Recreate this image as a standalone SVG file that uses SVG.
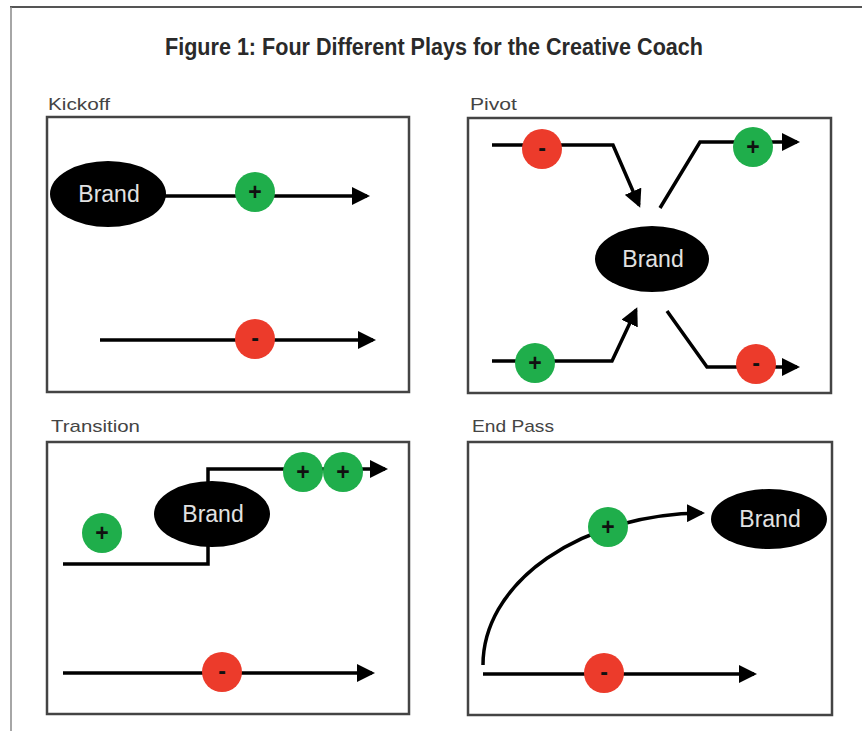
<svg xmlns="http://www.w3.org/2000/svg" width="862" height="731" viewBox="0 0 862 731">
<style>
.bg{fill:#fff}
.panel{fill:#fff;stroke:#444;stroke-width:2.5}
.title{font-family:"Liberation Sans",Arial,sans-serif;font-size:23px;font-weight:bold;fill:#2a2a2a;text-anchor:middle}
.lbl{font-family:"Liberation Sans",Arial,sans-serif;font-size:17px;fill:#444}
.brand ellipse{fill:#000}
.brand text{font-family:"Liberation Sans",Arial,sans-serif;font-size:23px;fill:#e2e2e2;text-anchor:middle}
.pos circle{fill:#1fae4b}
.neg circle{fill:#ec3b2b}
.sign{font-family:"Liberation Sans",Arial,sans-serif;fill:#111;text-anchor:middle;font-weight:bold}
.pos text{font-size:23px}
.neg text{font-size:23px}
.wire{fill:none;stroke:#000;stroke-width:3.5}
.arr{marker-end:url(#ah)}
</style>
<defs>
<marker id="ah" markerUnits="userSpaceOnUse" markerWidth="18" markerHeight="18" refX="15" refY="9" orient="auto">
<path d="M0,0 L18,9 L0,18 z" fill="#000"/>
</marker>
</defs>
<rect class="bg" x="0" y="0" width="862" height="731"/>
<line x1="10" y1="7" x2="862" y2="7" stroke="#555" stroke-width="2"/>
<line x1="11" y1="7" x2="11" y2="731" stroke="#888" stroke-width="1.5"/>
<text class="title" x="434" y="55" textLength="538" lengthAdjust="spacingAndGlyphs">Figure 1: Four Different Plays for the Creative Coach</text>

<g id="panel-kickoff">
<text class="lbl" x="48" y="110" textLength="62" lengthAdjust="spacingAndGlyphs">Kickoff</text>
<rect class="panel" x="47" y="117" width="362" height="275"/>
</g>
<g id="panel-pivot">
<text class="lbl" x="470" y="110" textLength="47" lengthAdjust="spacingAndGlyphs">Pivot</text>
<rect class="panel" x="468" y="118" width="363" height="275"/>
</g>
<g id="panel-transition">
<text class="lbl" x="51" y="432" textLength="89" lengthAdjust="spacingAndGlyphs">Transition</text>
<rect class="panel" x="47" y="442" width="362" height="272"/>
</g>
<g id="panel-endpass">
<text class="lbl" x="472" y="432" textLength="82" lengthAdjust="spacingAndGlyphs">End Pass</text>
<rect class="panel" x="468" y="442" width="364" height="273"/>
</g>

<g id="connectors">
<path class="wire arr" d="M160,196 H367"/>
<path class="wire arr" d="M100,340 H373"/>
<path class="wire arr" d="M492,145 H613 L639,205"/>
<path class="wire arr" d="M660,208 L700,142 H797"/>
<path class="wire arr" d="M492,361 H612 L636,310"/>
<path class="wire arr" d="M667,311 L707,367 H797"/>
<path class="wire arr" d="M63,564 H208 V469 H385"/>
<path class="wire arr" d="M63,673 H372"/>
<path class="wire arr" d="M483,665 A222,152 0 0 1 702,513"/>
<path class="wire arr" d="M483,674 H754"/>
</g>

<g id="kickoff-brand" class="brand"><ellipse cx="108" cy="194" rx="58" ry="33"/><text x="109" y="202">Brand</text></g>
<g id="kickoff-plus" class="pos"><circle cx="255" cy="192" r="20"/><text class="sign" x="255" y="200">+</text></g>
<g id="kickoff-minus" class="neg"><circle cx="255" cy="339" r="20"/><text class="sign" x="255" y="346">-</text></g>

<g id="pivot-brand" class="brand"><ellipse cx="652" cy="259" rx="57" ry="33"/><text x="653" y="267">Brand</text></g>
<g id="pivot-minus-in" class="neg"><circle cx="542" cy="149" r="20"/><text class="sign" x="542" y="156">-</text></g>
<g id="pivot-plus-out" class="pos"><circle cx="753" cy="147" r="20"/><text class="sign" x="753" y="155">+</text></g>
<g id="pivot-plus-in" class="pos"><circle cx="535" cy="363" r="20"/><text class="sign" x="535" y="371">+</text></g>
<g id="pivot-minus-out" class="neg"><circle cx="756" cy="364" r="20"/><text class="sign" x="756" y="371">-</text></g>

<g id="transition-brand" class="brand"><ellipse cx="212" cy="514" rx="58" ry="33"/><text x="213" y="522">Brand</text></g>
<g id="transition-plus-left" class="pos"><circle cx="102" cy="533" r="20"/><text class="sign" x="102" y="541">+</text></g>
<g id="transition-plus-1" class="pos"><circle cx="303" cy="472" r="20"/><text class="sign" x="303" y="480">+</text></g>
<g id="transition-plus-2" class="pos"><circle cx="343" cy="472" r="20"/><text class="sign" x="343" y="480">+</text></g>
<g id="transition-minus" class="neg"><circle cx="222" cy="672" r="20"/><text class="sign" x="222" y="679">-</text></g>

<g id="endpass-brand" class="brand"><ellipse cx="769" cy="519" rx="58" ry="30"/><text x="770" y="527">Brand</text></g>
<g id="endpass-plus" class="pos"><circle cx="608" cy="527" r="20"/><text class="sign" x="608" y="535">+</text></g>
<g id="endpass-minus" class="neg"><circle cx="604" cy="673" r="20"/><text class="sign" x="604" y="680">-</text></g>
</svg>
